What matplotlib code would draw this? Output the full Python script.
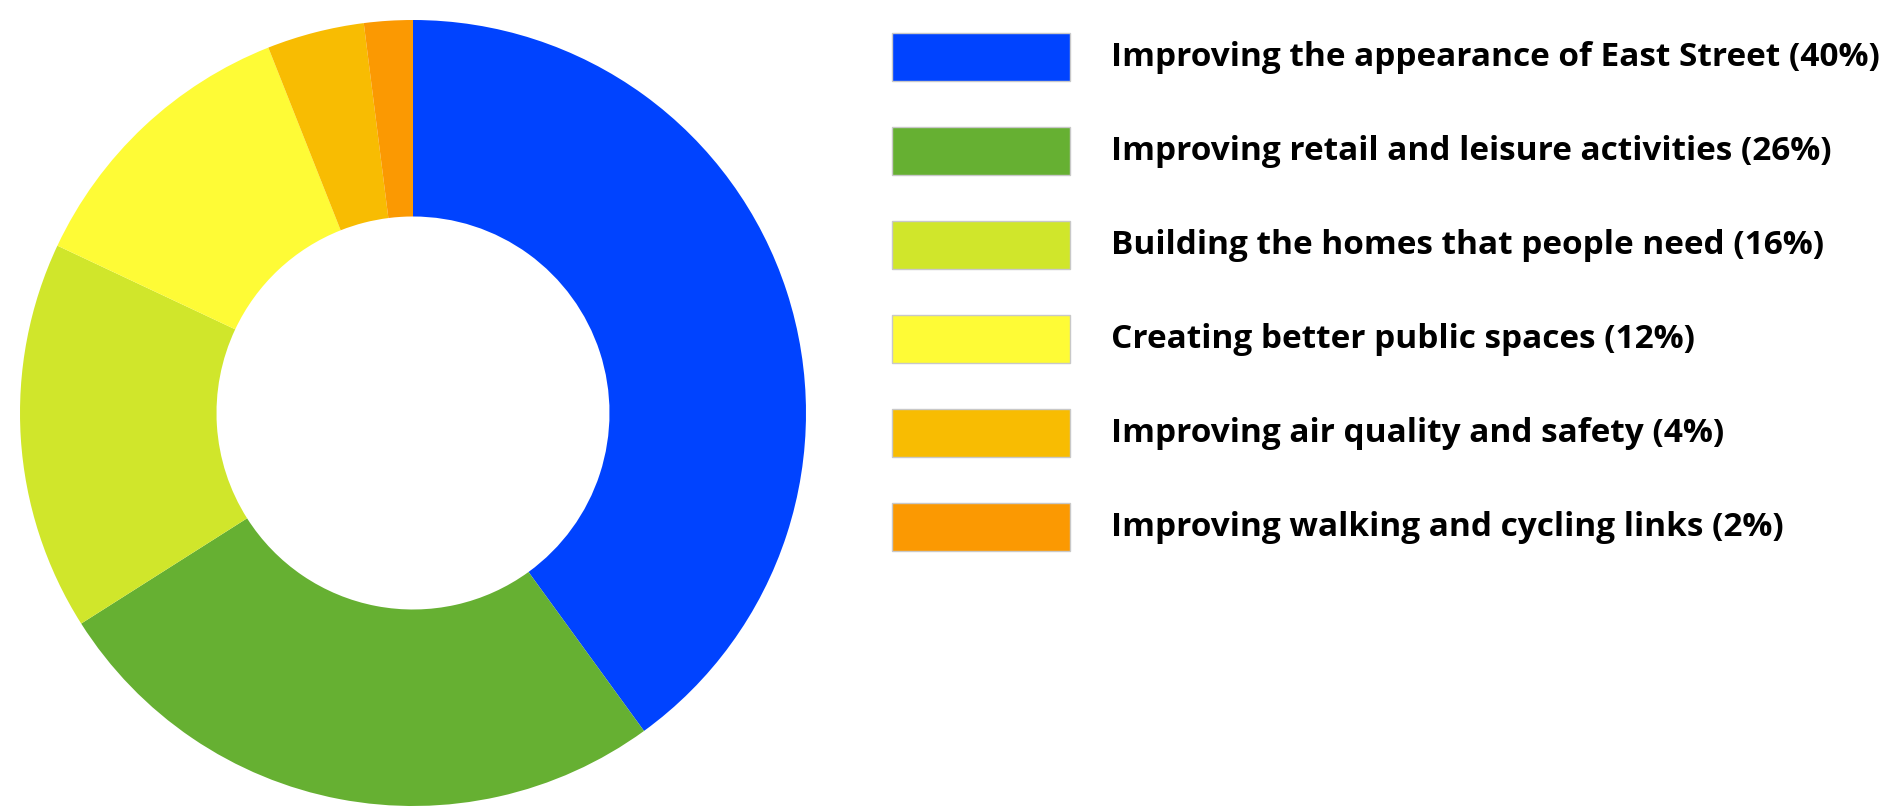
import matplotlib.pyplot as plt
from matplotlib.patches import Rectangle

# survey priorities (percent of responses)
labels = [
    "Improving the appearance of East Street",
    "Improving retail and leisure activities",
    "Building the homes that people need",
    "Creating better public spaces",
    "Improving air quality and safety",
    "Improving walking and cycling links",
]
shares = [40, 26, 16, 12, 4, 2]
colours = ["#0043FF", "#66B032", "#D0E62B", "#FEFB36", "#F8BC02", "#FB9902"]

W, H = 1890, 808
fig = plt.figure(figsize=(W / 100, H / 100), dpi=100)

# donut
ax = fig.add_axes([20 / W, 2 / H, 786 / W, 786 / H])
ax.pie(shares, colors=colours, startangle=90, counterclock=False,
       radius=1.0, wedgeprops=dict(width=0.5, linewidth=0))
ax.set_xlim(-1, 1)
ax.set_ylim(-1, 1)
ax.set_aspect("equal")
ax.axis("off")

# legend, laid out in pixel space
lax = fig.add_axes([0, 0, 1, 1])
lax.set_xlim(0, W)
lax.set_ylim(H, 0)
lax.axis("off")

row0, step = 57, 94
for i, (lab, val, col) in enumerate(zip(labels, shares, colours)):
    yc = row0 + i * step
    lax.add_patch(Rectangle((892, yc - 24), 178, 48, facecolor=col,
                            edgecolor="#c8c8c8", linewidth=1.0))
    lax.text(1111, yc, f"{lab} ({val}%)", fontsize=24, fontweight="bold",
             family=["Open Sans", "DejaVu Sans"], va="center", ha="left",
             color="#000000")

fig.savefig("out.png", dpi=100)
